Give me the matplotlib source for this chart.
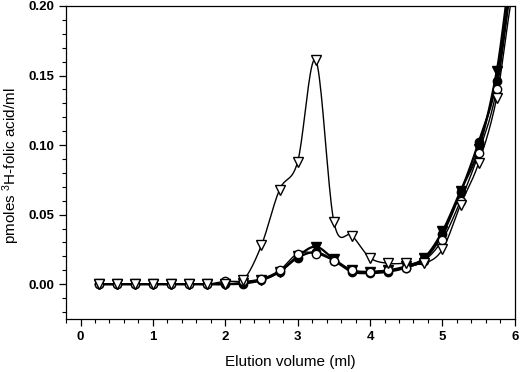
import numpy as np
import matplotlib
matplotlib.use("Agg")
import matplotlib.pyplot as plt
from matplotlib.ticker import MultipleLocator

plt.rcParams['font.family'] = ['Liberation Sans', 'DejaVu Sans']
plt.rcParams['mathtext.default'] = 'regular'

x = [0.25, 0.5, 0.75, 1.0, 1.25, 1.5, 1.75, 2.0, 2.25, 2.5, 2.75, 3.0,
     3.25, 3.5, 3.75, 4.0, 4.25, 4.5, 4.75, 5.0, 5.25, 5.5, 5.75, 6.0]

open_tri = [0, 0, 0, 0, 0, 0, 0, 0, 0.003, 0.028, 0.068, 0.088,
            0.161, 0.045, 0.035, 0.019, 0.015, 0.015, 0.015, 0.025, 0.057, 0.087, 0.134, 0.215]
filled_circ = [0, 0, 0, 0, 0, 0, 0, 0, 0.0005, 0.003, 0.009, 0.019,
               0.023, 0.017, 0.009, 0.008, 0.009, 0.012, 0.018, 0.036, 0.066, 0.102, 0.146, 0.23]
open_circ = [0, 0, 0, 0, 0, 0, 0, 0.002, 0.002, 0.004, 0.010, 0.022,
             0.022, 0.017, 0.010, 0.009, 0.010, 0.012, 0.017, 0.032, 0.060, 0.094, 0.140, 0.225]
filled_tri = [0, 0, 0, 0, 0, 0, 0, 0, 0.001, 0.003, 0.009, 0.020,
              0.027, 0.018, 0.010, 0.009, 0.010, 0.013, 0.019, 0.038, 0.067, 0.097, 0.153, 0.24]


def catmull_rom(xs, ys, n=20):
    xs = np.asarray(xs, float)
    ys = np.asarray(ys, float)
    px = np.concatenate([[2 * xs[0] - xs[1]], xs, [2 * xs[-1] - xs[-2]]])
    py = np.concatenate([[ys[0]], ys, [ys[-1]]])
    ox, oy = [], []
    t = np.linspace(0, 1, n, endpoint=False)
    for i in range(1, len(px) - 2):
        p0, p1, p2, p3 = py[i - 1], py[i], py[i + 1], py[i + 2]
        x1, x2 = px[i], px[i + 1]
        yy = 0.5 * (2 * p1 + (-p0 + p2) * t + (2 * p0 - 5 * p1 + 4 * p2 - p3) * t ** 2
                    + (-p0 + 3 * p1 - 3 * p2 + p3) * t ** 3)
        xx = x1 + (x2 - x1) * t
        ox.append(xx)
        oy.append(yy)
    ox.append([xs[-1]])
    oy.append([ys[-1]])
    return np.concatenate(ox), np.concatenate(oy)


fig = plt.figure(figsize=(5.2, 3.72), dpi=100)
ax = fig.add_axes([0.127, 0.1425, 0.863, 0.8415])

series = [
    (filled_circ, 'o', 'black', 1.6),
    (filled_tri, 'v', 'black', 1.6),
    (open_circ, 'o', 'white', 1.0),
    (open_tri, 'v', 'white', 1.0),
]
for ys, m, fc, lw in series:
    sx, sy = catmull_rom(x, ys)
    ax.plot(sx, sy, color='black', lw=lw, zorder=2)
for ys, m, fc, lw in series:
    ms = 6.8 if m == 'v' else 6.0
    ax.plot(x, ys, linestyle='none', marker=m, markersize=ms,
            markerfacecolor=fc, markeredgecolor='black', markeredgewidth=1.0, zorder=3)

ax.set_xlim(-0.2, 6)
ax.set_ylim(-0.025, 0.20)
ax.xaxis.set_major_locator(MultipleLocator(1))
ax.xaxis.set_minor_locator(MultipleLocator(0.2))
ax.yaxis.set_major_locator(MultipleLocator(0.05))
ax.yaxis.set_minor_locator(MultipleLocator(0.01))
ax.yaxis.set_major_formatter(matplotlib.ticker.FormatStrFormatter('%.2f'))
ax.tick_params(which='major', direction='out', length=5, width=0.9, labelsize=9.5)
ax.tick_params(which='minor', direction='out', length=3, width=0.8)
for lab in ax.get_xticklabels() + ax.get_yticklabels():
    lab.set_fontweight('bold')
for sp in ax.spines.values():
    sp.set_linewidth(0.9)

ax.set_xlabel('Elution volume (ml)', fontsize=11, labelpad=9)
ax.set_ylabel(r'pmoles $^{3}$H-folic acid/ml', fontsize=11)
ax.yaxis.set_label_coords(-0.098, 0.49)

fig.savefig('out.png', dpi=100)
